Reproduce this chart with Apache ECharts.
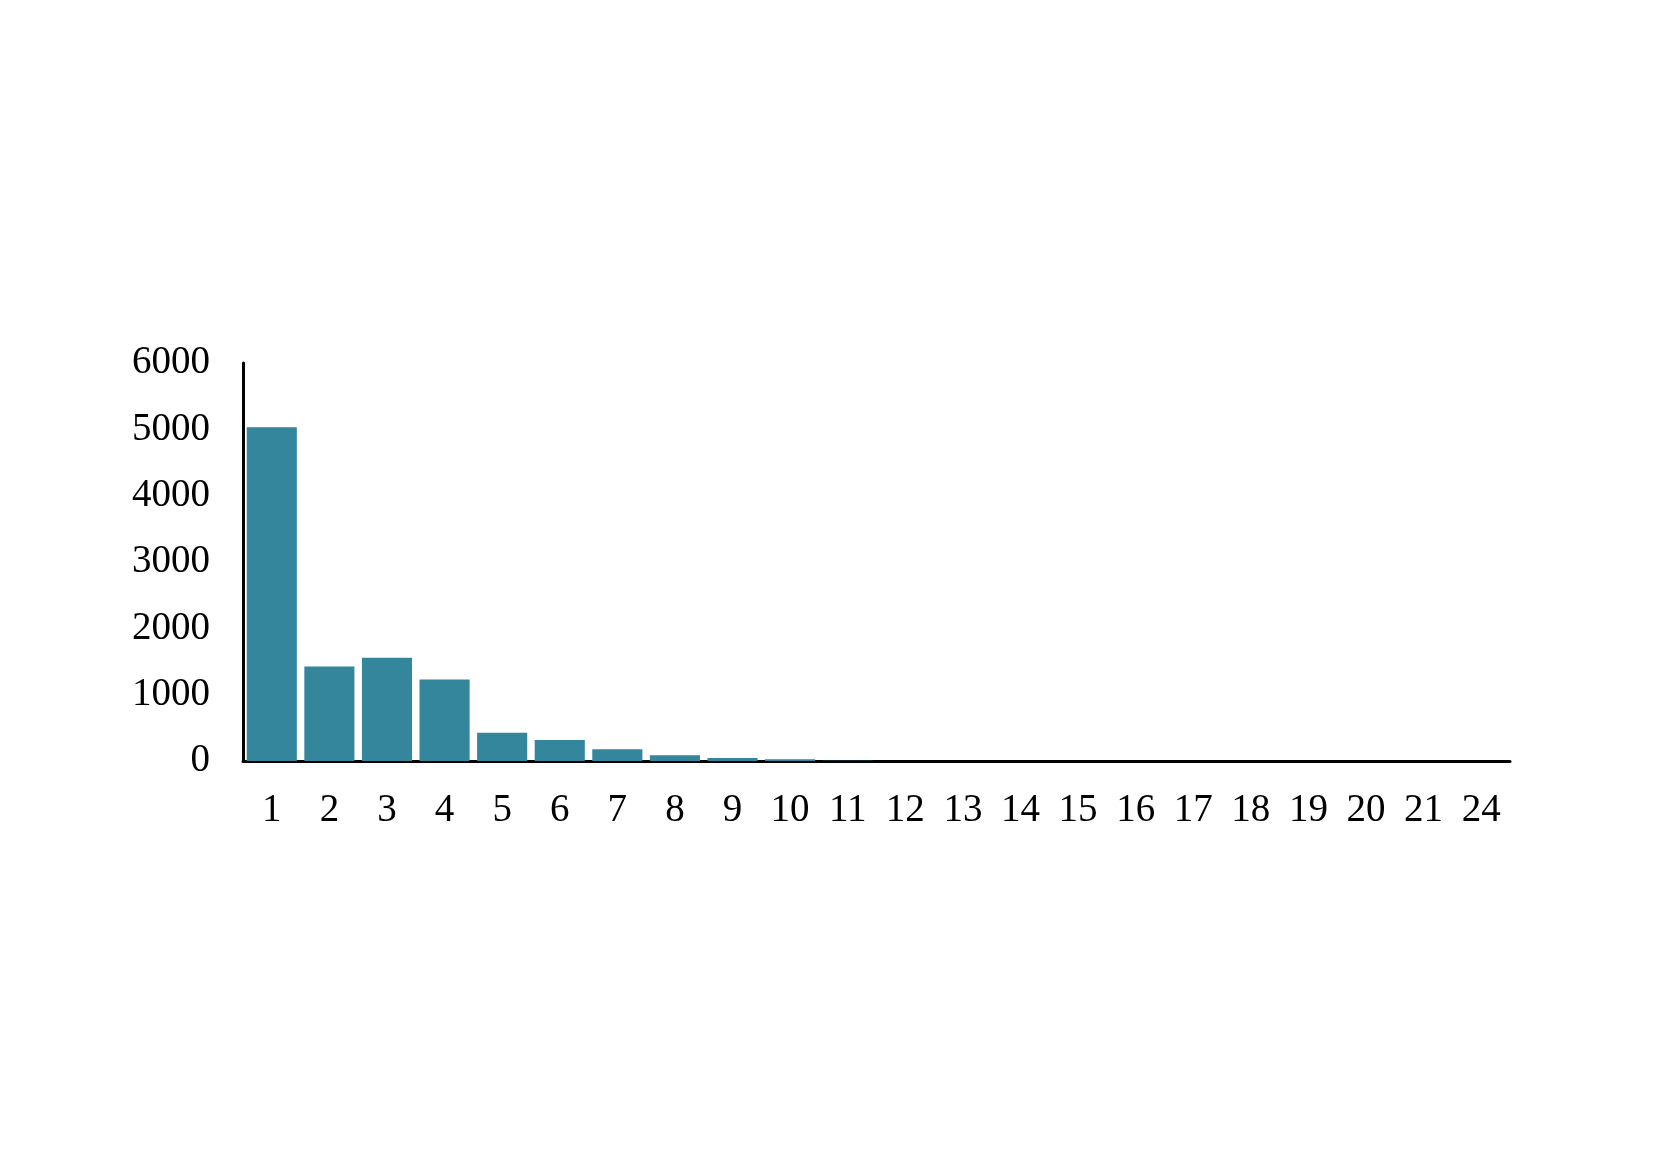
<!DOCTYPE html>
<html>
<head>
<meta charset="utf-8">
<script src="https://cdn.jsdelivr.net/npm/echarts@6/dist/echarts.min.js"></script>
<style>
html,body{margin:0;padding:0;background:#fff;}
#chart{width:1661px;height:1174px;}
</style>
</head>
<body>
<div id="chart"></div>
<script>
const categories = ['1','2','3','4','5','6','7','8','9','10','11','12','13','14','15','16','17','18','19','20','21','24'];
const values = [5030, 1425, 1555, 1230, 427, 316, 176, 86, 45, 26, 3, 0, 0, 0, 0, 0, 0, 0, 0, 0, 0, 0];
const yMin = 0, yMax = 6000, yStep = 1000;

const chart = echarts.init(document.getElementById('chart'));
const font = '"Liberation Serif", "Times New Roman", serif';
chart.setOption({
  animation: false,
  backgroundColor: '#ffffff',
  grid: {left: 243, right: 151, top: 363, bottom: 413, containLabel: false},
  xAxis: {
    type: 'category',
    data: categories,
    axisLine: {show: true, lineStyle: {color: '#000', width: 3}},
    axisTick: {show: false},
    axisLabel: {color: '#000', fontFamily: font, fontSize: 39, margin: 30, interval: 0}
  },
  yAxis: {
    type: 'value',
    min: yMin, max: yMax, interval: yStep,
    axisLine: {show: true, lineStyle: {color: '#000', width: 3}},
    axisTick: {show: false},
    splitLine: {show: false},
    axisLabel: {color: '#000', fontFamily: font, fontSize: 39, margin: 33,
      padding: [4, 0, 0, 0],
      formatter: v => String(v)}
  },
  series: [{
    type: 'bar',
    data: values,
    barCategoryGap: '13%',
    itemStyle: {color: '#33869c'}
  }]
});
</script>
</body>
</html>
